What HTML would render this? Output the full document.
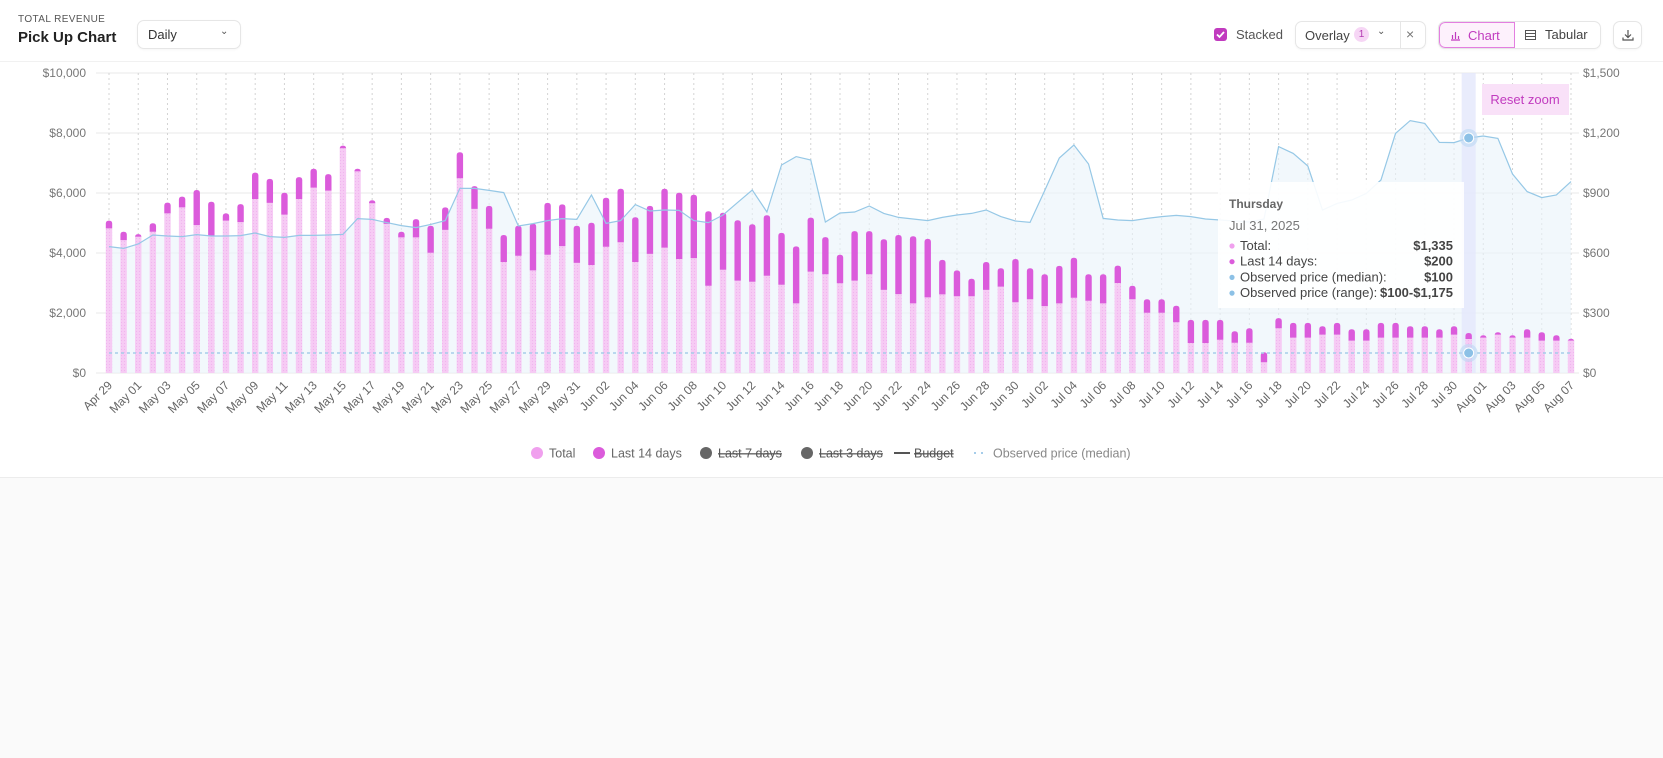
<!DOCTYPE html>
<html><head><meta charset="utf-8">
<style>
*{box-sizing:border-box;margin:0;padding:0}
body{width:1663px;height:758px;background:#fafafa;font-family:"Liberation Sans",sans-serif;position:relative;overflow:hidden}
#card{position:absolute;left:0;top:0;width:1663px;height:478px;background:#fff;border-bottom:1px solid #ececec}
.hdr{position:absolute;left:0;top:0;width:1663px;height:62px;border-bottom:1px solid #f1f1f1}
.abs{position:absolute}
.btn{position:absolute;border:1px solid #e6e6e6;border-radius:7px;background:#fff;box-shadow:0 1px 2px rgba(0,0,0,0.04);font-size:13px;color:#333}
</style></head><body>
<div id="card">
<div class="hdr">
  <div class="abs" style="left:18px;top:14px;font-size:10px;color:#555;letter-spacing:0.4px">TOTAL REVENUE</div>
  <div class="abs" style="left:18px;top:29px;font-size:15px;font-weight:bold;color:#222">Pick Up Chart</div>
  <div class="btn" style="left:137px;top:20px;width:104px;height:29px">
    <span class="abs" style="left:10px;top:6px">Daily</span><span class="abs" style="left:82px;top:5px;font-size:10px;color:#555">&#8964;</span></div>
  <div class="abs" style="left:1214px;top:28px;width:13px;height:13px;border-radius:3px;background:#c13bbf">
    <svg width="13" height="13"><path d="M3 6.5 L5.5 9 L10 4" stroke="#fff" stroke-width="1.8" fill="none"/></svg></div>
  <div class="abs" style="left:1236px;top:27px;font-size:13px;color:#555">Stacked</div>
  <div class="btn" style="left:1295px;top:21px;width:131px;height:28px">
    <span class="abs" style="left:9px;top:6px;color:#444">Overlay</span>
    <span class="abs" style="left:58px;top:5px;width:15px;height:15px;border-radius:8px;background:#f6d6f5;color:#b43ab2;font-size:10px;text-align:center;line-height:15px">1</span>
    <span class="abs" style="left:81px;top:4px;font-size:10px;color:#555">&#8964;</span>
    <span class="abs" style="left:104px;top:0;width:1px;height:26px;background:#e6e6e6"></span>
    <span class="abs" style="left:110px;top:4px;font-size:14px;color:#777">&#215;</span></div>
  <div class="btn" style="left:1438px;top:21px;width:163px;height:28px;overflow:hidden">
    <div class="abs" style="left:0;top:0;width:76px;height:26px;background:#fdf1fc;border:1px solid #e37fe0;border-radius:6px 0 0 6px;color:#c13bbf">
      <svg class="abs" style="left:10px;top:7px" width="11" height="11"><path d="M1 10H10M2.5 9V5M5.5 9V2M8.5 9V6" stroke="#c13bbf" stroke-width="1.2" fill="none"/></svg>
      <span class="abs" style="left:28px;top:5px">Chart</span></div>
    <div class="abs" style="left:76px;top:0;width:86px;height:26px">
      <svg class="abs" style="left:10px;top:8px" width="11" height="10"><rect x="0.5" y="0.5" width="10" height="9" fill="none" stroke="#555"/><path d="M0.5 3.5H10.5M0.5 6.5H10.5" stroke="#555"/></svg>
      <span class="abs" style="left:30px;top:5px;color:#444">Tabular</span></div></div>
  <div class="btn" style="left:1613px;top:21px;width:29px;height:28px">
    <svg class="abs" style="left:8px;top:7px" width="12" height="12"><path d="M6 1V8M3 5.5L6 8.5L9 5.5M1 8.5V11H11V8.5" stroke="#555" stroke-width="1.2" fill="none"/></svg></div>
</div>
<svg id="chart" class="abs" style="left:0;top:0" width="1663" height="478"></svg>
</div>
<script>
const dates=["Apr 29","Apr 30","May 01","May 02","May 03","May 04","May 05","May 06","May 07","May 08","May 09","May 10","May 11","May 12","May 13","May 14","May 15","May 16","May 17","May 18","May 19","May 20","May 21","May 22","May 23","May 24","May 25","May 26","May 27","May 28","May 29","May 30","May 31","Jun 01","Jun 02","Jun 03","Jun 04","Jun 05","Jun 06","Jun 07","Jun 08","Jun 09","Jun 10","Jun 11","Jun 12","Jun 13","Jun 14","Jun 15","Jun 16","Jun 17","Jun 18","Jun 19","Jun 20","Jun 21","Jun 22","Jun 23","Jun 24","Jun 25","Jun 26","Jun 27","Jun 28","Jun 29","Jun 30","Jul 01","Jul 02","Jul 03","Jul 04","Jul 05","Jul 06","Jul 07","Jul 08","Jul 09","Jul 10","Jul 11","Jul 12","Jul 13","Jul 14","Jul 15","Jul 16","Jul 17","Jul 18","Jul 19","Jul 20","Jul 21","Jul 22","Jul 23","Jul 24","Jul 25","Jul 26","Jul 27","Jul 28","Jul 29","Jul 30","Jul 31","Aug 01","Aug 02","Aug 03","Aug 04","Aug 05","Aug 06","Aug 07"];
const totals=[5080,4710,4630,4990,5680,5880,6100,5710,5320,5630,6680,6470,6010,6530,6810,6630,7580,6810,5760,5170,4710,5130,4910,5520,7360,6230,5570,4600,4910,4980,5670,5620,4910,5010,5840,6140,5190,5570,6140,6010,5940,5390,5340,5090,4960,5260,4670,4220,5180,4530,3940,4730,4730,4460,4600,4560,4470,3770,3420,3140,3700,3490,3800,3490,3290,3570,3840,3290,3290,3580,2910,2460,2460,2240,1770,1770,1770,1390,1490,690,1830,1670,1670,1560,1670,1460,1460,1670,1670,1560,1560,1460,1560,1335,1260,1360,1260,1460,1360,1260,1140];
const last14=[260,280,90,280,360,360,1170,1140,240,600,880,800,730,730,630,550,90,90,100,200,190,610,900,750,870,760,760,900,1000,1560,1730,1390,1240,1410,1630,1780,1490,1600,1960,2210,2110,2480,1900,2010,1920,2020,1730,1900,1800,1240,950,1650,1440,1690,1970,2240,1950,1150,860,580,930,610,1440,1030,1060,1250,1330,880,970,580,450,450,450,550,770,770,660,380,480,330,340,490,490,280,390,380,380,490,490,380,380,280,280,200,80,80,80,280,280,180,60];
const priceMedian=[100,100,100,100,100,100,100,100,100,100,100,100,100,100,100,100,100,100,100,100,100,100,100,100,100,100,100,100,100,100,100,100,100,100,100,100,100,100,100,100,100,100,100,100,100,100,100,100,100,100,100,100,100,100,100,100,100,100,100,100,100,100,100,100,100,100,100,100,100,100,100,100,100,100,100,100,100,100,100,100,100,100,100,100,100,100,100,100,100,100,100,100,100,100,100,100,100,100,100,100,100];
const priceHigh=[632,623,645,690,685,682,692,685,685,687,700,682,678,688,688,690,693,772,768,752,737,727,743,762,923,923,913,902,735,747,762,772,768,890,748,762,842,810,815,813,762,752,790,853,915,805,1040,1082,1065,755,800,805,835,798,778,770,762,778,790,798,815,782,760,753,912,1075,1140,1045,773,765,762,773,782,788,782,770,765,760,755,770,1132,1098,1035,815,848,865,898,965,1198,1262,1248,1153,1152,1175,1185,1173,995,907,877,890,957];
const leftTicks=[0,2000,4000,6000,8000,10000];
const rightTicks=[0,300,600,900,1200,1500];
const hoverIndex=93;

const svg=document.getElementById('chart');const NS='http://www.w3.org/2000/svg';
const X0=109,DX=14.62,YB=373,YT=73,W=6.4;
function xs(i){return X0+i*DX}
function yl(v){return YB-(v/10000)*(YB-YT)}
function yr(v){return YB-(v/1500)*(YB-YT)}
function mk(tag,at,parent){const e=document.createElementNS(NS,tag);for(const k in at)e.setAttribute(k,at[k]);(parent||svg).appendChild(e);return e}
const defs=mk('defs',{});
const pat=mk('pattern',{id:'dots',width:'3',height:'3',patternUnits:'userSpaceOnUse'},defs);
mk('rect',{width:3,height:3,fill:'#f6cbf4'},pat);mk('circle',{cx:1.5,cy:1.5,r:0.6,fill:'#f0b5ee'},pat);
// gridlines
leftTicks.forEach((t,k)=>{
 const g=mk('line',{x1:96,x2:1579,y1:yl(t),y2:yl(t),stroke:'#e8e8e8','stroke-width':1});
 
 const a=mk('text',{x:86,y:yl(t)+4,'text-anchor':'end','font-size':12,fill:'#777'});a.textContent='$'+t.toLocaleString('en-US');
 
 const b=mk('text',{x:1583,y:yr(rightTicks[k])+4,'font-size':12,fill:'#777'});b.textContent='$'+rightTicks[k].toLocaleString('en-US');
 
});
dates.forEach((d,i)=>{if(i%2==0){
 const v=mk('line',{x1:xs(i),x2:xs(i),y1:YT,y2:YB,stroke:'#d4d4d4','stroke-dasharray':'2,3'});
 
 const t=mk('text',{x:xs(i)+4,y:386,'text-anchor':'end','font-size':12,fill:'#666',transform:`rotate(-45 ${xs(i)+4} 386)`});t.textContent=d;
 
}});
// area + line
let pts=priceHigh.map((v,i)=>xs(i)+','+yr(v));
const area=mk('polygon',{points:pts.join(' ')+` ${xs(priceHigh.length-1)},${YB} ${xs(0)},${YB}`,fill:'#e9f4fa','fill-opacity':0.6});

// highlight band
const band=mk('rect',{x:xs(hoverIndex)-7,y:YT,width:14,height:YB-YT,fill:'#e3e7fb','fill-opacity':0.8});

// bars
totals.forEach((t,i)=>{
 const x=xs(i)-W/2,l=last14[i];
 const base=mk('rect',{x:x,y:yl(t-l),width:W,height:YB-yl(t-l),fill:'url(#dots)'});
 
 const top=mk('path',{d:`M${x},${yl(t-l)} V${yl(t)+3} Q${x},${yl(t)} ${x+3},${yl(t)} H${x+W-3} Q${x+W},${yl(t)} ${x+W},${yl(t)+3} V${yl(t-l)} Z`,fill:'#db5bdb'});
 
});
const line=mk('polyline',{points:pts.join(' '),fill:'none',stroke:'#96c8e6','stroke-width':1.2});

const med=mk('polyline',{points:priceMedian.map((v,i)=>xs(i)+','+yr(v)).join(' '),fill:'none',stroke:'#a6cdea','stroke-width':1.5,'stroke-dasharray':'3,3'});

[priceHigh[hoverIndex],priceMedian[hoverIndex]].forEach(v=>{
 mk('circle',{cx:xs(hoverIndex),cy:yr(v),r:9,fill:'#bcd9f3','fill-opacity':0.6});
 const c=mk('circle',{cx:xs(hoverIndex),cy:yr(v),r:5,fill:'#8cc1e6',stroke:'#fff','stroke-width':1});
 
});
// reset zoom
const rz=mk('rect',{x:1482,y:84,width:87,height:31,fill:'#f9e1f8'});
const rzt=mk('text',{x:1525,y:104,'text-anchor':'middle','font-size':13,fill:'#c13bbf'});rzt.textContent='Reset zoom';

// tooltip
const tg=mk('g',{});
mk('rect',{x:1218,y:182,width:246,height:126,fill:'#fff','fill-opacity':0.9},tg);
const tt=(x,y,s,at)=>{const e=mk('text',Object.assign({x:x,y:y,'font-size':13,fill:'#444'},at||{}),tg);e.textContent=s;return e};
tt(1229,208,'Thursday',{'font-size':12,'font-weight':'bold',fill:'#666'});
tt(1229,230,'Jul 31, 2025',{fill:'#777'});
const rows=[['Total:','$1,335','#f0a0ee'],['Last 14 days:','$200','#db5bdb'],['Observed price (median):','$100','#8cc1e6'],['Observed price (range):','$100-$1,175','#8cc1e6']];
rows.forEach((r,k)=>{const y=250+k*15.7;mk('circle',{cx:1232,cy:y-4,r:2.6,fill:r[2]},tg);tt(1240,y,r[0]);tt(1453,y,r[1],{'text-anchor':'end','font-weight':'bold'});});
// legend
const lg=[['Total','#f0a0ee','dot',false,'#666'],['Last 14 days','#db5bdb','dot',false,'#666'],['Last 7 days','#666','dot',true,'#555'],['Last 3 days','#666','dot',true,'#555'],['Budget','#555','line',true,'#555'],['Observed price (median)','#a6cdea','dash',false,'#888']];
const lx=[537,599,706,807,902,981];
lg.forEach((l,k)=>{const g=mk('g',{});
 const x=lx[k],y=453;
 if(l[2]=='dot')mk('circle',{cx:x,cy:y,r:6,fill:l[1]},g);
 else if(l[2]=='line')mk('line',{x1:x-8,x2:x+8,y1:y,y2:y,stroke:l[1],'stroke-width':2},g);
 else mk('line',{x1:x-7,x2:x+7,y1:y,y2:y,stroke:l[1],'stroke-width':2,'stroke-dasharray':'2,5'},g);
 const t=mk('text',{x:x+12,y:y+4.5,'font-size':12.5,fill:l[4]},g);t.textContent=l[0];
 if(l[3])t.setAttribute('text-decoration','line-through');
});
</script>
</body></html>
